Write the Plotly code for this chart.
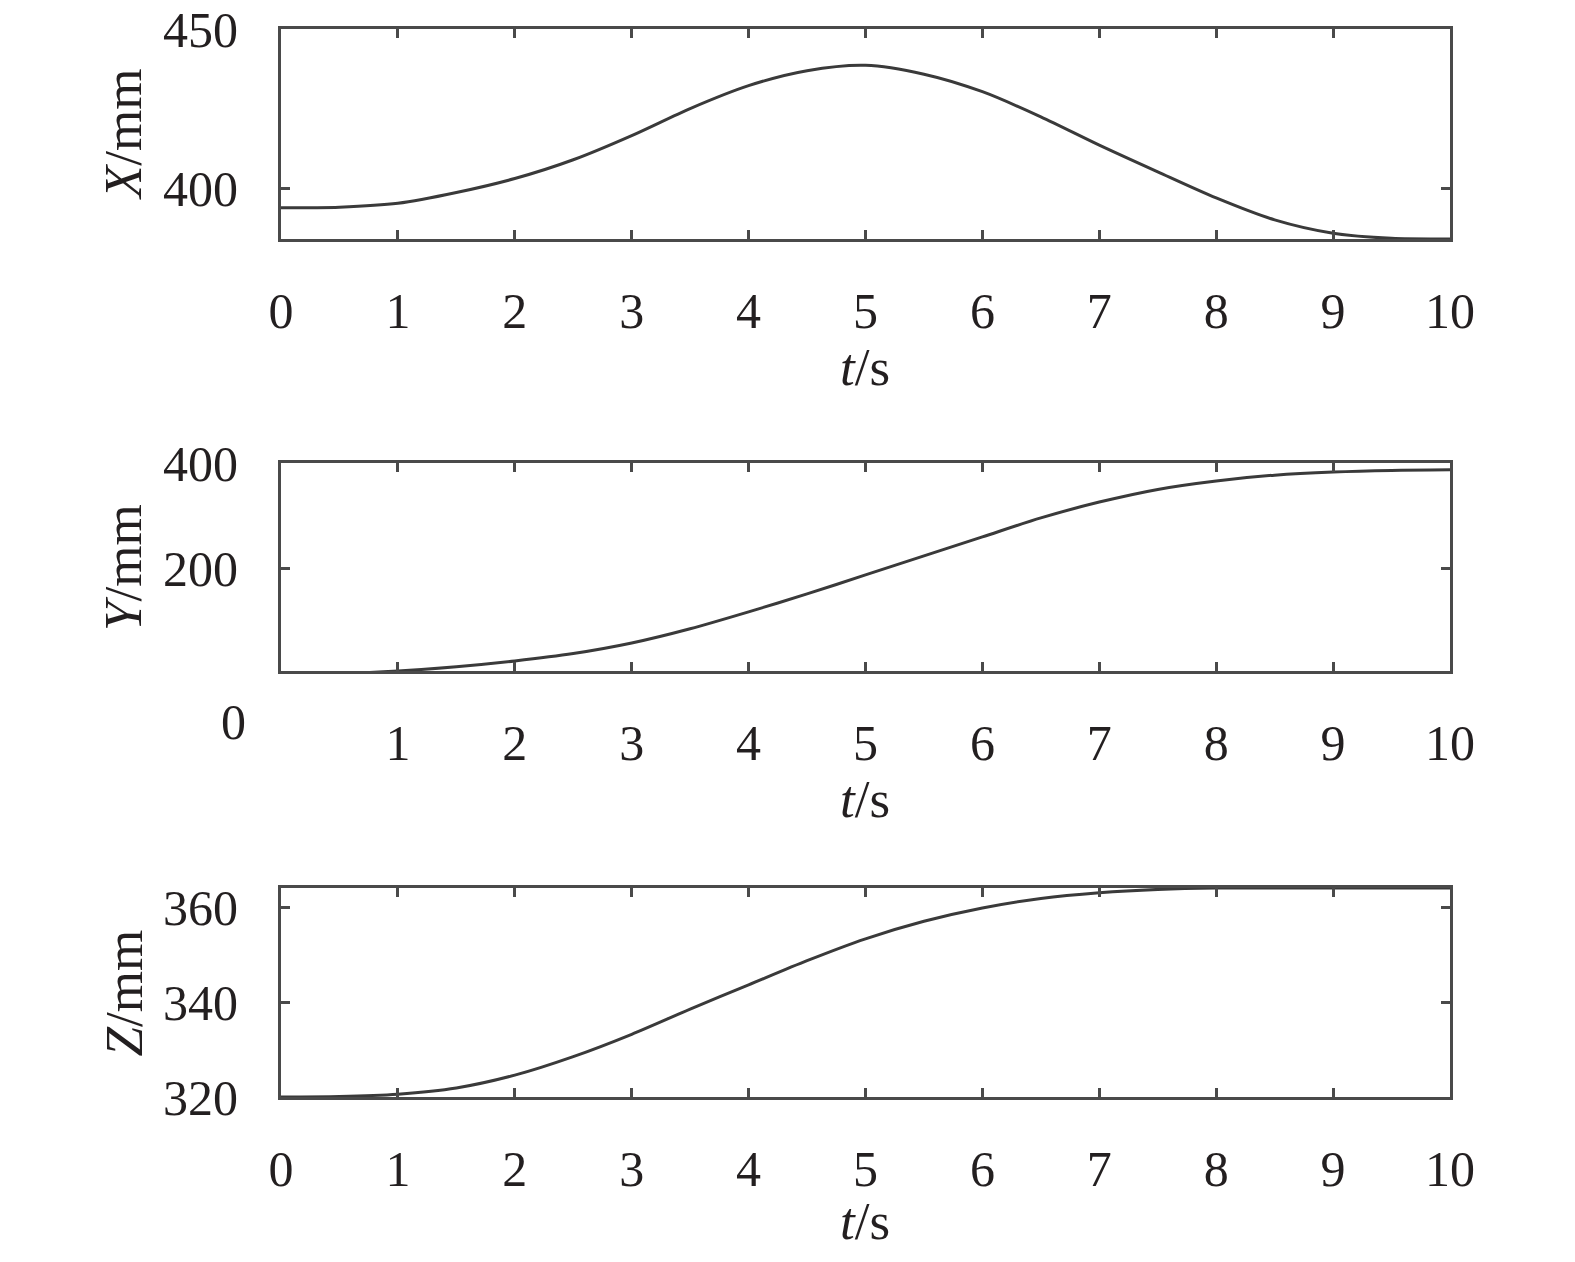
import plotly.graph_objects as go

# ---- data ----
t = [0, 0.5, 1, 1.5, 2, 2.5, 3, 3.5, 4, 4.5, 5, 5.5, 6, 6.5, 7, 7.5, 8, 8.5, 9, 9.5, 10]
x_mm = [393.8, 394.0, 395.2, 398.6, 403.0, 408.9, 416.5, 425.0, 432.2, 436.9, 438.6,
        435.8, 430.3, 422.4, 413.5, 405.1, 396.9, 390.0, 385.8, 384.2, 384.0]
y_mm = [0, 1, 6, 14, 25, 39, 59, 86, 118, 152, 188, 224, 260, 296, 326, 350, 366,
        377, 383, 386, 387]
z_mm = [320.0, 320.1, 320.6, 321.9, 324.6, 328.5, 333.2, 338.5, 343.6, 348.7, 353.3,
        357.0, 359.8, 361.8, 363.0, 363.7, 364.0, 364.0, 364.0, 364.0, 364.0]

x_ticks = [0, 1, 2, 3, 4, 5, 6, 7, 8, 9, 10]
x_ticks_mid = [1, 2, 3, 4, 5, 6, 7, 8, 9, 10]
yticks_x = [400, 450]
yticks_y = [200, 400]
yticks_z = [320, 340, 360]
y_titles = ["<i>X</i>/mm", "<i>Y</i>/mm", "<i>Z</i>/mm"]
x_title = "<i>t</i>/s"

OFF = 8  # page body margin
W, H = 1575 - 2 * OFF, 1262 - 2 * OFF
FONT = "Liberation Serif, Times New Roman, serif"
TXT = "#231f20"
AX = "#4a4a4a"
LINE = "#3a3a3a"
FS = 50
FT = 53

# plot-area pixel boxes in window coordinates (top, bottom)
xl, xr = 281 - OFF, 1450 - OFF
boxes = [(29 - OFF, 239 - OFF), (463 - OFF, 671 - OFF), (888 - OFF, 1097 - OFF)]
xtitle_gap = [128, 128, 124]

def ydom(b):
    return [1 - b[1] / H, 1 - b[0] / H]

fig = go.Figure()
series = [x_mm, y_mm, z_mm]
for i, s in enumerate(series):
    fig.add_trace(go.Scatter(x=t, y=s, mode="lines",
                             line=dict(color=LINE, width=3, shape="spline", smoothing=0.8),
                             xaxis=f"x{i+1 if i else ''}", yaxis=f"y{i+1 if i else ''}", showlegend=False))

common = dict(ticks="inside", ticklen=9, tickwidth=3, tickcolor=AX, showline=True, linecolor=AX,
              linewidth=3, mirror="ticks", showgrid=False, zeroline=False, automargin=False,
              ticklabeloverflow="allow",
              tickfont=dict(family=FONT, size=FS, color=TXT))

def xaxis(anchor, vals):
    return dict(domain=[xl / W, xr / W], range=[0, 10], anchor=anchor, tickvals=vals,
                ticklabelstandoff=26, **common)

def yaxis(anchor, b, rng, vals):
    return dict(domain=ydom(b), range=rng, anchor=anchor, tickvals=vals,
                ticklabelstandoff=30, **common)

fig.update_layout(
    template="none",
    width=W, height=H, margin=dict(l=0, r=0, t=0, b=0, autoexpand=False),
    paper_bgcolor="white", plot_bgcolor="white",
    xaxis=xaxis("y", x_ticks),
    xaxis2=xaxis("y2", x_ticks_mid),
    xaxis3=xaxis("y3", x_ticks),
    yaxis=yaxis("x", boxes[0], [384, 450], yticks_x),
    yaxis2=yaxis("x2", boxes[1], [6, 400], yticks_y),
    yaxis3=yaxis("x3", boxes[2], [320, 364], yticks_z),
)

anns = []
for i, b in enumerate(boxes):
    anns.append(dict(text=x_title, x=(xl + xr) / 2 / W, y=1 - (b[1] + xtitle_gap[i]) / H,
                     xref="paper", yref="paper",
                     xanchor="center", yanchor="middle", showarrow=False,
                     font=dict(family=FONT, size=FT, color=TXT)))
    anns.append(dict(text=y_titles[i], x=(123 - OFF) / W, y=1 - ((b[0] + b[1]) / 2) / H,
                     xref="paper", yref="paper",
                     xanchor="center", yanchor="middle", textangle=-90, showarrow=False,
                     font=dict(family=FONT, size=FT, color=TXT)))
# offset "0" label of middle panel
anns.append(dict(text="0", x=(233 - OFF) / W, y=1 - (722 - OFF) / H, xref="paper", yref="paper",
                 xanchor="center", yanchor="middle", showarrow=False,
                 font=dict(family=FONT, size=FS, color=TXT)))
fig.update_layout(annotations=anns)

fig.write_html("out.html")
